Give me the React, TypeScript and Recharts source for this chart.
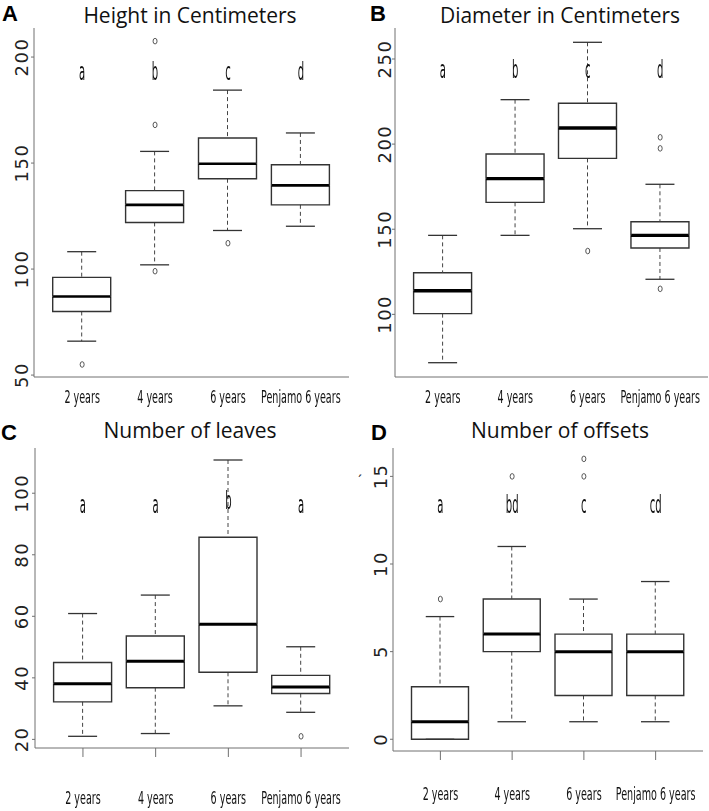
import { ComposedChart, Bar, Line, XAxis, YAxis } from 'recharts';

const groups = ['2 years', '4 years', '6 years', 'Penjamo 6 years'];

// A: height in centimeters
const heightLow = [66, 102, 118.2, 120.2];
const heightQ1 = [80, 122, 142.6, 130.3];
const heightMed = [87.1, 130.3, 149.7, 139.5];
const heightQ3 = [96.1, 137, 161.8, 149.2];
const heightHigh = [108.2, 155.5, 184.4, 164.2];
const heightOutliers = [[55], [207.5, 168, 99], [112.2], []];
const heightTags = ['a', 'b', 'c', 'd'];
const heightTagY = [189.4, 189.4, 189.4, 189.4];
const heightTicks = [50, 100, 150, 200];

// B: diameter in centimeters
const diamLow = [71.6, 146.4, 150.3, 120.6];
const diamQ1 = [100.4, 165.8, 191.6, 139];
const diamMed = [113.9, 179.7, 209.5, 146.4];
const diamQ3 = [124.4, 194.2, 224, 154.4];
const diamHigh = [146.4, 226.1, 259.8, 176.4];
const diamOutliers = [[], [], [137.2], [204, 197.5, 115]];
const diamTags = ['a', 'b', 'c', 'd'];
const diamTagY = [238.8, 238.8, 238.8, 238.8];
const diamTicks = [100, 150, 200, 250];

// C: number of leaves
const leavesLow = [21, 21.9, 30.9, 28.8];
const leavesQ1 = [32.2, 36.8, 41.8, 34.9];
const leavesMed = [38.1, 45.4, 57.4, 37];
const leavesQ3 = [45, 53.6, 85.7, 40.8];
const leavesHigh = [60.9, 66.9, 110.8, 50.1];
const leavesOutliers = [[], [], [], [21]];
const leavesTags = ['a', 'a', 'b', 'a'];
const leavesTagY = [93.5, 93.5, 94.8, 93.5];
const leavesTicks = [20, 40, 60, 80, 100];

// D: number of offsets
const offsetsLow = [0, 1, 1, 1];
const offsetsQ1 = [0, 5, 2.5, 2.5];
const offsetsMed = [1, 6, 5, 5];
const offsetsQ3 = [3, 8, 6, 6];
const offsetsHigh = [7, 11, 8, 9];
const offsetsOutliers = [[8], [15], [16, 15], []];
const offsetsTags = ['a', 'bd', 'c', 'cd'];
const offsetsTagY = [12.9, 12.9, 12.9, 12.9];
const offsetsTicks = [0, 5, 10, 15];

const FRAME = '#707070';
const BOX = '#333';
const NARROW = "'Liberation Sans Narrow', 'Arial Narrow', 'DejaVu Sans Condensed', sans-serif";

function buildRows(
  low: number[], q1: number[], med: number[], q3: number[], high: number[],
  outliers: number[][], tags: string[], tagY: number[],
) {
  return groups.map((name, i) => ({
    name,
    base: low[i],
    wl: q1[i] - low[i],
    bl: med[i] - q1[i],
    bh: q3[i] - med[i],
    wh: high[i] - q3[i],
    o1: outliers[i][0] ?? null,
    o2: outliers[i][1] ?? null,
    o3: outliers[i][2] ?? null,
    tag: tags[i],
    tagY: tagY[i],
  }));
}

function Narrow({ x, y, size, sx, sy, children }: any) {
  return (
    <text
      transform={`translate(${x},${y}) scale(${sx},${sy})`}
      textAnchor="middle"
      fontFamily={NARROW}
      fontSize={size}
      fill="#111"
      style={{ filter: 'grayscale(1)' }}
    >
      {children}
    </text>
  );
}

type PanelProps = {
  rows: any[];
  domain: [number, number];
  ticks: number[];
  left: number;
  top: number;
  width: number;
  height: number;
  margin: { top: number; right: number; bottom: number; left: number };
  yWidth: number;
  xHeight: number;
  pad: number;
  barSize: number;
  xTickSize: number;
  labelDy: number;
  yLabelOff: number;
  medianW: number;
};

function Panel(p: PanelProps) {
  const emptyShape = () => <g />;

  const lowerWhisker = (s: any) => {
    const cx = s.x + s.width / 2;
    const yb = s.y + s.height;
    return (
      <g>
        <line x1={cx} x2={cx} y1={s.y} y2={yb} stroke="#444" strokeDasharray="4 3" />
        <line x1={s.x + s.width / 4} x2={s.x + (s.width * 3) / 4} y1={yb} y2={yb} stroke={BOX} strokeWidth={1.3} />
      </g>
    );
  };

  const upperWhisker = (s: any) => {
    const cx = s.x + s.width / 2;
    return (
      <g>
        <line x1={cx} x2={cx} y1={s.y} y2={s.y + s.height} stroke="#444" strokeDasharray="4 3" />
        <line x1={s.x + s.width / 4} x2={s.x + (s.width * 3) / 4} y1={s.y} y2={s.y} stroke={BOX} strokeWidth={1.3} />
      </g>
    );
  };

  const lowerBox = (s: any) => (
    <g>
      <path
        d={`M${s.x},${s.y} V${s.y + s.height} H${s.x + s.width} V${s.y}`}
        fill="none"
        stroke={BOX}
        strokeWidth={1.4}
      />
      <line x1={s.x} x2={s.x + s.width} y1={s.y} y2={s.y} stroke="#000" strokeWidth={p.medianW} />
    </g>
  );

  const upperBox = (s: any) => (
    <path
      d={`M${s.x},${s.y + s.height} V${s.y} H${s.x + s.width} V${s.y + s.height}`}
      fill="none"
      stroke={BOX}
      strokeWidth={1.4}
    />
  );

  const outlierDot = (d: any) => {
    if (d.value == null || d.cy == null || Number.isNaN(d.cy)) return <g key={d.index} />;
    return (
      <ellipse key={d.index} cx={d.cx} cy={d.cy} rx={2} ry={2.8} fill="none" stroke="#444" strokeWidth={0.9} />
    );
  };

  const tagDot = (d: any) => (
    <g key={d.index}>
      <Narrow x={d.cx} y={d.cy} size={14} sx={0.8} sy={1.8}>
        {d.payload.tag}
      </Narrow>
    </g>
  );

  const xTick = (t: any) => (
    <Narrow x={t.x} y={t.y + p.labelDy} size={13} sx={0.82} sy={1.36}>
      {t.payload.value}
    </Narrow>
  );

  const yTick = (t: any) => {
    const cx = t.x - p.yLabelOff;
    return (
      <text
        x={cx}
        y={t.y}
        transform={`rotate(-90 ${cx} ${t.y})`}
        textAnchor="middle"
        dominantBaseline="central"
        fontFamily="'DejaVu Sans', sans-serif"
        fontSize={18}
        letterSpacing={1.5}
        fill="#222"
      >
        {t.payload.value}
      </text>
    );
  };

  return (
    <div style={{ position: 'absolute', left: p.left, top: p.top }}>
      <ComposedChart width={p.width} height={p.height} data={p.rows} margin={p.margin}>
        <XAxis
          dataKey="name"
          type="category"
          interval={0}
          height={p.xHeight}
          padding={{ left: p.pad, right: p.pad }}
          axisLine={{ stroke: FRAME }}
          tickLine={p.xTickSize > 0 ? { stroke: FRAME } : false}
          tickSize={p.xTickSize}
          tickMargin={0}
          tick={xTick}
        />
        <XAxis
          xAxisId="top"
          dataKey="name"
          orientation="top"
          height={0}
          tick={false}
          tickLine={false}
          axisLine={{ stroke: FRAME }}
        />
        <YAxis
          type="number"
          domain={p.domain}
          allowDataOverflow
          ticks={p.ticks}
          interval={0}
          width={p.yWidth}
          axisLine={{ stroke: FRAME }}
          tickLine={{ stroke: FRAME }}
          tickSize={3}
          tickMargin={0}
          tick={yTick}
        />
        <YAxis
          yAxisId="right"
          orientation="right"
          type="number"
          domain={[0, 1]}
          allowDataOverflow
          width={0}
          tick={false}
          tickLine={false}
          axisLine={{ stroke: FRAME }}
        />
        <Bar dataKey="base" stackId="box" barSize={p.barSize} shape={emptyShape} isAnimationActive={false} />
        <Bar dataKey="wl" stackId="box" barSize={p.barSize} shape={lowerWhisker} isAnimationActive={false} />
        <Bar dataKey="bl" stackId="box" barSize={p.barSize} shape={lowerBox} isAnimationActive={false} />
        <Bar dataKey="bh" stackId="box" barSize={p.barSize} shape={upperBox} isAnimationActive={false} />
        <Bar dataKey="wh" stackId="box" barSize={p.barSize} shape={upperWhisker} isAnimationActive={false} />
        {['o1', 'o2', 'o3'].map((k) => (
          <Line
            key={k}
            dataKey={k}
            stroke="none"
            dot={outlierDot}
            activeDot={false}
            isAnimationActive={false}
          />
        ))}
        <Line dataKey="tagY" stroke="none" dot={tagDot} activeDot={false} isAnimationActive={false} />
      </ComposedChart>
    </div>
  );
}

const heightRows = buildRows(heightLow, heightQ1, heightMed, heightQ3, heightHigh, heightOutliers, heightTags, heightTagY);
const diamRows = buildRows(diamLow, diamQ1, diamMed, diamQ3, diamHigh, diamOutliers, diamTags, diamTagY);
const leavesRows = buildRows(leavesLow, leavesQ1, leavesMed, leavesQ3, leavesHigh, leavesOutliers, leavesTags, leavesTagY);
const offsetsRows = buildRows(offsetsLow, offsetsQ1, offsetsMed, offsetsQ3, offsetsHigh, offsetsOutliers, offsetsTags, offsetsTagY);

const titleFont = "'Open Sans', sans-serif";
const letterFont = "'Liberation Sans', Arial, sans-serif";

export default function App() {
  return (
    <div
      style={{
        position: 'absolute',
        left: 0,
        top: 0,
        width: 709,
        height: 811,
        background: '#fff',
        overflow: 'hidden',
      }}
    >
      <Panel
        rows={heightRows}
        domain={[49.1, 213.7]}
        ticks={heightTicks}
        left={0}
        top={0}
        width={360}
        height={410}
        margin={{ top: 28, right: 11, bottom: 0, left: 0 }}
        yWidth={34}
        xHeight={33}
        pad={11.7}
        barSize={58}
        xTickSize={0}
        labelDy={26}
        yLabelOff={9}
        medianW={2.6}
      />
      <Panel
        rows={diamRows}
        domain={[63.2, 268.2]}
        ticks={diamTicks}
        left={360}
        top={0}
        width={349}
        height={410}
        margin={{ top: 28, right: 1, bottom: 0, left: 0 }}
        yWidth={35}
        xHeight={33}
        pad={11.6}
        barSize={58}
        xTickSize={0}
        labelDy={26}
        yLabelOff={7}
        medianW={3.4}
      />
      <Panel
        rows={leavesRows}
        domain={[17.2, 114.7]}
        ticks={leavesTicks}
        left={0}
        top={400}
        width={360}
        height={411}
        margin={{ top: 48, right: 11, bottom: 0, left: 0 }}
        yWidth={35}
        xHeight={63}
        pad={11.6}
        barSize={58}
        xTickSize={9}
        labelDy={47}
        yLabelOff={10}
        medianW={3}
      />
      <Panel
        rows={offsetsRows}
        domain={[-0.67, 16.62]}
        ticks={offsetsTicks}
        left={360}
        top={400}
        width={349}
        height={411}
        margin={{ top: 48, right: 6, bottom: 0, left: 0 }}
        yWidth={33}
        xHeight={60}
        pad={11.5}
        barSize={57}
        xTickSize={9}
        labelDy={40}
        yLabelOff={9}
        medianW={3}
      />
      <svg
        width={709}
        height={811}
        style={{ position: 'absolute', left: 0, top: 0, pointerEvents: 'none' }}
      >
        <text x={2} y={21} fontFamily={letterFont} fontWeight="bold" fontSize={22} fill="#000">A</text>
        <text x={190} y={23} textAnchor="middle" fontFamily={titleFont} fontSize={21} fill="#111">
          Height in Centimeters
        </text>
        <text x={370} y={21} fontFamily={letterFont} fontWeight="bold" fontSize={22} fill="#000">B</text>
        <text x={560} y={23} textAnchor="middle" fontFamily={titleFont} fontSize={21} fill="#111">
          Diameter in Centimeters
        </text>
        <text x={1} y={440} fontFamily={letterFont} fontWeight="bold" fontSize={22} fill="#000">C</text>
        <text x={190} y={438} textAnchor="middle" fontFamily={titleFont} fontSize={21} fill="#111">
          Number of leaves
        </text>
        <text x={371} y={440} fontFamily={letterFont} fontWeight="bold" fontSize={22} fill="#000">D</text>
        <text x={560} y={438} textAnchor="middle" fontFamily={titleFont} fontSize={21} fill="#111">
          Number of offsets
        </text>
        <text x={358} y={486} fontFamily={titleFont} fontSize={14} fill="#222">´</text>
      </svg>
    </div>
  );
}
